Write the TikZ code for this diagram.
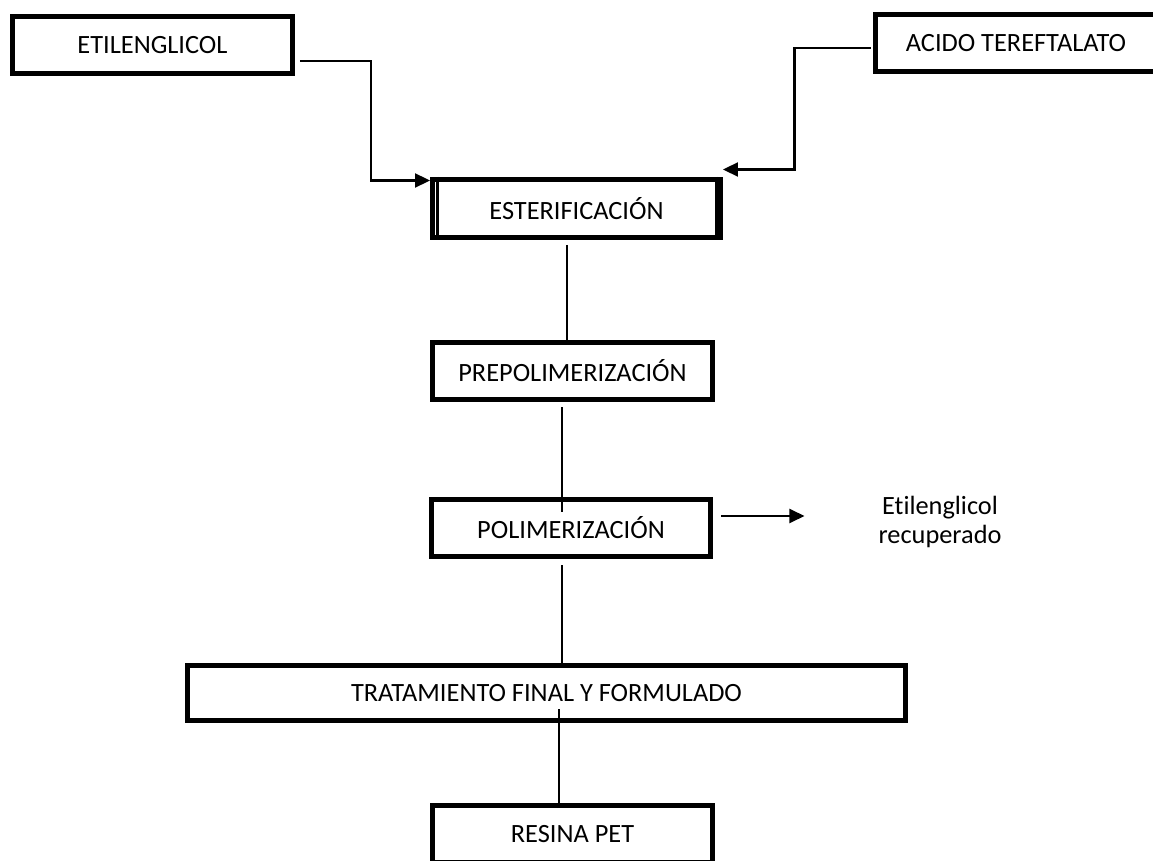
\documentclass[tikz,border=0pt]{standalone}
\usepackage{fontspec}
\setmainfont{Carlito}[Ligatures=NoCommon]
\usetikzlibrary{arrows.meta, calc}

\begin{document}
\begin{tikzpicture}[x=0.02cm, y=-0.02cm]
    \tikzset{
        every node/.style={font=\fontsize{15}{17}\selectfont},
        caja/.style={draw, line width=2.85pt, inner sep=0pt, minimum height=1.14cm, minimum width=#1},
        linea/.style={line width=0.85pt},
        flecha/.style={->, >={Triangle[length=0.3cm, width=0.28cm]}, line width=1.2pt}
    }

    % 0. 画布范围
    \useasboundingbox (0,0) rectangle (1153,861);
    \clip (0,0) rectangle (1153,861);

    % 1. 原料
    \node[caja=5.6cm] (etil) at (152.5, 45) {ETILENGLICOL};
    \node[caja=5.62cm] (acido) at (1016, 43) {ACIDO TEREFTALATO};

    % 2. 工艺步骤
    \node[caja=5.76cm, minimum height=1.16cm] (ester) at (576.5, 208.5) {ESTERIFICACIÓN};
    \node[caja=5.6cm] (prepol) at (572.5, 371) {PREPOLIMERIZACIÓN};
    \node[caja=5.58cm] (polim) at (571, 528) {POLIMERIZACIÓN};
    \node[caja=14.36cm, minimum height=1.1cm] (trat) at (546.5, 693) {TRATAMIENTO FINAL Y FORMULADO};
    \node[caja=5.6cm] (resina) at (572.5, 834) {RESINA PET};

    % 双线边框
    \draw[line width=1.7pt] ($(ester.north west)+(7,0)$) -- ($(ester.south west)+(7,0)$);
    \draw[line width=1.7pt] ($(ester.north east)+(-6,0)$) -- ($(ester.south east)+(-6,0)$);

    % 3. 副产物
    \node[align=center] (recup) at (940, 522) {Etilenglicol\\recuperado};

    % 4. 进料箭头
    \draw[flecha] ($(etil.east)+(5,16)$) -- ++(71,0) |- ($(ester.north west)+(0,3.5)$);
    \draw[flecha] ($(acido.west)+(-2.5,5)$) -- ++(-76,0) |- ($(ester.north east)+(0,-7.5)$);

    % 5. 连接线
    \draw[linea] ($(ester.south)+(-9.5,5)$) -- ++(0,95);
    \draw[linea] ($(prepol.south)+(-10.5,5.5)$) -- ++(0,105);
    \draw[linea] ($(polim.south)+(-9,6.5)$) -- ++(0,100);
    \draw[linea] ($(trat.center)+(12.5,16)$) -- ++(0,94);

    % 6. 回收乙二醇
    \draw[flecha] ($(polim.east)+(8.5,-12)$) -- ++(83,0);

\end{tikzpicture}
\end{document}
